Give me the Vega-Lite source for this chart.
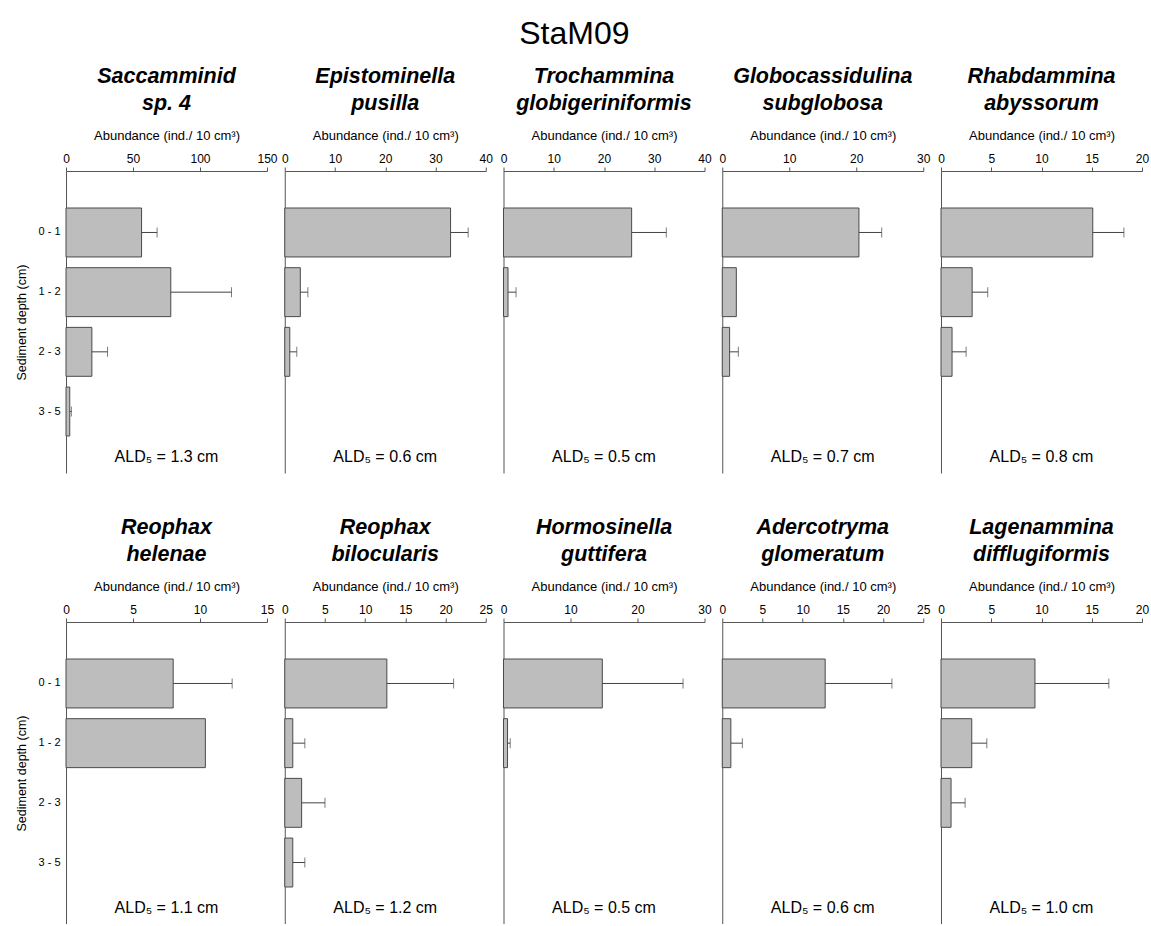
{
 "$schema": "https://vega.github.io/schema/vega-lite/v6.json",
 "padding": {"left": 15, "top": 17, "right": 2, "bottom": 0},
 "title": {"text": "StaM09", "fontSize": 32, "fontWeight": "normal", "fontStyle": "normal", "anchor": "middle", "offset": 15, "dx": -8},
 "datasets": {
  "bars": [
   {"species":"Saccamminid sp. 4","depth":"0 - 1","abundance":56.4,"upper":68.0},
   {"species":"Saccamminid sp. 4","depth":"1 - 2","abundance":78.2,"upper":123.5},
   {"species":"Saccamminid sp. 4","depth":"2 - 3","abundance":19.3,"upper":31.0},
   {"species":"Saccamminid sp. 4","depth":"3 - 5","abundance":2.8,"upper":4.0},
   {"species":"Epistominella pusilla","depth":"0 - 1","abundance":33.0,"upper":36.5},
   {"species":"Epistominella pusilla","depth":"1 - 2","abundance":3.1,"upper":4.6},
   {"species":"Epistominella pusilla","depth":"2 - 3","abundance":1.0,"upper":2.4},
   {"species":"Trochammina globigeriniformis","depth":"0 - 1","abundance":25.5,"upper":32.4},
   {"species":"Trochammina globigeriniformis","depth":"1 - 2","abundance":0.9,"upper":2.5},
   {"species":"Globocassidulina subglobosa","depth":"0 - 1","abundance":20.4,"upper":23.8},
   {"species":"Globocassidulina subglobosa","depth":"1 - 2","abundance":2.1,"upper":null},
   {"species":"Globocassidulina subglobosa","depth":"2 - 3","abundance":1.1,"upper":2.4},
   {"species":"Rhabdammina abyssorum","depth":"0 - 1","abundance":15.1,"upper":18.2},
   {"species":"Rhabdammina abyssorum","depth":"1 - 2","abundance":3.1,"upper":4.65},
   {"species":"Rhabdammina abyssorum","depth":"2 - 3","abundance":1.1,"upper":2.5},
   {"species":"Reophax helenae","depth":"0 - 1","abundance":8.0,"upper":12.4},
   {"species":"Reophax helenae","depth":"1 - 2","abundance":10.4,"upper":null},
   {"species":"Reophax bilocularis","depth":"0 - 1","abundance":12.7,"upper":21.0},
   {"species":"Reophax bilocularis","depth":"1 - 2","abundance":1.0,"upper":2.5},
   {"species":"Reophax bilocularis","depth":"2 - 3","abundance":2.1,"upper":5.0},
   {"species":"Reophax bilocularis","depth":"3 - 5","abundance":1.0,"upper":2.5},
   {"species":"Hormosinella guttifera","depth":"0 - 1","abundance":14.75,"upper":26.8},
   {"species":"Hormosinella guttifera","depth":"1 - 2","abundance":0.6,"upper":1.0},
   {"species":"Adercotryma glomeratum","depth":"0 - 1","abundance":12.8,"upper":21.1},
   {"species":"Adercotryma glomeratum","depth":"1 - 2","abundance":1.07,"upper":2.5},
   {"species":"Lagenammina difflugiformis","depth":"0 - 1","abundance":9.35,"upper":16.7},
   {"species":"Lagenammina difflugiformis","depth":"1 - 2","abundance":3.06,"upper":4.56},
   {"species":"Lagenammina difflugiformis","depth":"2 - 3","abundance":1.0,"upper":2.4}
  ]
 },
 "columns": 5,
 "spacing": {"row": 149, "column": 17.75},
 "bounds": "flush",
 "concat": [
  {
   "title": {"text": ["Saccamminid", "sp. 4"]},
   "width": 201, "height": 302,
   "layer": [
    {"data": {"name": "bars"}, "transform": [{"filter": "datum.species === 'Saccamminid sp. 4'"}], "mark": "bar",
     "encoding": {"x": {"field": "abundance", "type": "quantitative", "title": "Abundance (ind./ 10 cm³)", "scale": {"domain": [0, 150], "nice": false}, "axis": {"orient": "top", "values": [0, 50, 100, 150]}},
      "y": {"field": "depth", "type": "nominal", "title": "Sediment depth (cm)", "scale": {"domain": ["0 - 1", "1 - 2", "2 - 3", "3 - 5"]}}}},
    {"data": {"name": "bars"}, "transform": [{"filter": "datum.species === 'Saccamminid sp. 4' && isValid(datum.upper)"}], "mark": "rule",
     "encoding": {"x": {"field": "abundance", "type": "quantitative", "title": "Abundance (ind./ 10 cm³)", "scale": {"domain": [0, 150], "nice": false}}, "x2": {"field": "upper"},
      "y": {"field": "depth", "type": "nominal", "title": "Sediment depth (cm)", "scale": {"domain": ["0 - 1", "1 - 2", "2 - 3", "3 - 5"]}}}},
    {"data": {"name": "bars"}, "transform": [{"filter": "datum.species === 'Saccamminid sp. 4' && isValid(datum.upper)"}], "mark": {"type": "tick", "size": 10},
     "encoding": {"x": {"field": "upper", "type": "quantitative", "title": "Abundance (ind./ 10 cm³)", "scale": {"domain": [0, 150], "nice": false}},
      "y": {"field": "depth", "type": "nominal", "title": "Sediment depth (cm)", "scale": {"domain": ["0 - 1", "1 - 2", "2 - 3", "3 - 5"]}}}},
    {"data": {"values": [{"label": "ALD₅ = 1.3 cm"}]}, "mark": {"type": "text", "dy": 45},
     "encoding": {"x": {"datum": 75, "type": "quantitative"}, "y": {"datum": "3 - 5", "type": "nominal"}, "text": {"field": "label", "type": "nominal"}}}
   ]
  },
  {
   "title": {"text": ["Epistominella", "pusilla"]},
   "width": 201, "height": 302,
   "layer": [
    {"data": {"name": "bars"}, "transform": [{"filter": "datum.species === 'Epistominella pusilla'"}], "mark": "bar",
     "encoding": {"x": {"field": "abundance", "type": "quantitative", "title": "Abundance (ind./ 10 cm³)", "scale": {"domain": [0, 40], "nice": false}, "axis": {"orient": "top", "values": [0, 10, 20, 30, 40]}},
      "y": {"field": "depth", "type": "nominal", "title": null, "scale": {"domain": ["0 - 1", "1 - 2", "2 - 3", "3 - 5"]}, "axis": {"labels": false}}}},
    {"data": {"name": "bars"}, "transform": [{"filter": "datum.species === 'Epistominella pusilla' && isValid(datum.upper)"}], "mark": "rule",
     "encoding": {"x": {"field": "abundance", "type": "quantitative", "title": "Abundance (ind./ 10 cm³)", "scale": {"domain": [0, 40], "nice": false}}, "x2": {"field": "upper"},
      "y": {"field": "depth", "type": "nominal", "title": null, "scale": {"domain": ["0 - 1", "1 - 2", "2 - 3", "3 - 5"]}}}},
    {"data": {"name": "bars"}, "transform": [{"filter": "datum.species === 'Epistominella pusilla' && isValid(datum.upper)"}], "mark": {"type": "tick", "size": 10},
     "encoding": {"x": {"field": "upper", "type": "quantitative", "title": "Abundance (ind./ 10 cm³)", "scale": {"domain": [0, 40], "nice": false}},
      "y": {"field": "depth", "type": "nominal", "title": null, "scale": {"domain": ["0 - 1", "1 - 2", "2 - 3", "3 - 5"]}}}},
    {"data": {"values": [{"label": "ALD₅ = 0.6 cm"}]}, "mark": {"type": "text", "dy": 45},
     "encoding": {"x": {"datum": 20, "type": "quantitative"}, "y": {"datum": "3 - 5", "type": "nominal"}, "text": {"field": "label", "type": "nominal"}}}
   ]
  },
  {
   "title": {"text": ["Trochammina", "globigeriniformis"]},
   "width": 201, "height": 302,
   "layer": [
    {"data": {"name": "bars"}, "transform": [{"filter": "datum.species === 'Trochammina globigeriniformis'"}], "mark": "bar",
     "encoding": {"x": {"field": "abundance", "type": "quantitative", "title": "Abundance (ind./ 10 cm³)", "scale": {"domain": [0, 40], "nice": false}, "axis": {"orient": "top", "values": [0, 10, 20, 30, 40]}},
      "y": {"field": "depth", "type": "nominal", "title": null, "scale": {"domain": ["0 - 1", "1 - 2", "2 - 3", "3 - 5"]}, "axis": {"labels": false}}}},
    {"data": {"name": "bars"}, "transform": [{"filter": "datum.species === 'Trochammina globigeriniformis' && isValid(datum.upper)"}], "mark": "rule",
     "encoding": {"x": {"field": "abundance", "type": "quantitative", "title": "Abundance (ind./ 10 cm³)", "scale": {"domain": [0, 40], "nice": false}}, "x2": {"field": "upper"},
      "y": {"field": "depth", "type": "nominal", "title": null, "scale": {"domain": ["0 - 1", "1 - 2", "2 - 3", "3 - 5"]}}}},
    {"data": {"name": "bars"}, "transform": [{"filter": "datum.species === 'Trochammina globigeriniformis' && isValid(datum.upper)"}], "mark": {"type": "tick", "size": 10},
     "encoding": {"x": {"field": "upper", "type": "quantitative", "title": "Abundance (ind./ 10 cm³)", "scale": {"domain": [0, 40], "nice": false}},
      "y": {"field": "depth", "type": "nominal", "title": null, "scale": {"domain": ["0 - 1", "1 - 2", "2 - 3", "3 - 5"]}}}},
    {"data": {"values": [{"label": "ALD₅ = 0.5 cm"}]}, "mark": {"type": "text", "dy": 45},
     "encoding": {"x": {"datum": 20, "type": "quantitative"}, "y": {"datum": "3 - 5", "type": "nominal"}, "text": {"field": "label", "type": "nominal"}}}
   ]
  },
  {
   "title": {"text": ["Globocassidulina", "subglobosa"]},
   "width": 201, "height": 302,
   "layer": [
    {"data": {"name": "bars"}, "transform": [{"filter": "datum.species === 'Globocassidulina subglobosa'"}], "mark": "bar",
     "encoding": {"x": {"field": "abundance", "type": "quantitative", "title": "Abundance (ind./ 10 cm³)", "scale": {"domain": [0, 30], "nice": false}, "axis": {"orient": "top", "values": [0, 10, 20, 30]}},
      "y": {"field": "depth", "type": "nominal", "title": null, "scale": {"domain": ["0 - 1", "1 - 2", "2 - 3", "3 - 5"]}, "axis": {"labels": false}}}},
    {"data": {"name": "bars"}, "transform": [{"filter": "datum.species === 'Globocassidulina subglobosa' && isValid(datum.upper)"}], "mark": "rule",
     "encoding": {"x": {"field": "abundance", "type": "quantitative", "title": "Abundance (ind./ 10 cm³)", "scale": {"domain": [0, 30], "nice": false}}, "x2": {"field": "upper"},
      "y": {"field": "depth", "type": "nominal", "title": null, "scale": {"domain": ["0 - 1", "1 - 2", "2 - 3", "3 - 5"]}}}},
    {"data": {"name": "bars"}, "transform": [{"filter": "datum.species === 'Globocassidulina subglobosa' && isValid(datum.upper)"}], "mark": {"type": "tick", "size": 10},
     "encoding": {"x": {"field": "upper", "type": "quantitative", "title": "Abundance (ind./ 10 cm³)", "scale": {"domain": [0, 30], "nice": false}},
      "y": {"field": "depth", "type": "nominal", "title": null, "scale": {"domain": ["0 - 1", "1 - 2", "2 - 3", "3 - 5"]}}}},
    {"data": {"values": [{"label": "ALD₅ = 0.7 cm"}]}, "mark": {"type": "text", "dy": 45},
     "encoding": {"x": {"datum": 15, "type": "quantitative"}, "y": {"datum": "3 - 5", "type": "nominal"}, "text": {"field": "label", "type": "nominal"}}}
   ]
  },
  {
   "title": {"text": ["Rhabdammina", "abyssorum"]},
   "width": 201, "height": 302,
   "layer": [
    {"data": {"name": "bars"}, "transform": [{"filter": "datum.species === 'Rhabdammina abyssorum'"}], "mark": "bar",
     "encoding": {"x": {"field": "abundance", "type": "quantitative", "title": "Abundance (ind./ 10 cm³)", "scale": {"domain": [0, 20], "nice": false}, "axis": {"orient": "top", "values": [0, 5, 10, 15, 20]}},
      "y": {"field": "depth", "type": "nominal", "title": null, "scale": {"domain": ["0 - 1", "1 - 2", "2 - 3", "3 - 5"]}, "axis": {"labels": false}}}},
    {"data": {"name": "bars"}, "transform": [{"filter": "datum.species === 'Rhabdammina abyssorum' && isValid(datum.upper)"}], "mark": "rule",
     "encoding": {"x": {"field": "abundance", "type": "quantitative", "title": "Abundance (ind./ 10 cm³)", "scale": {"domain": [0, 20], "nice": false}}, "x2": {"field": "upper"},
      "y": {"field": "depth", "type": "nominal", "title": null, "scale": {"domain": ["0 - 1", "1 - 2", "2 - 3", "3 - 5"]}}}},
    {"data": {"name": "bars"}, "transform": [{"filter": "datum.species === 'Rhabdammina abyssorum' && isValid(datum.upper)"}], "mark": {"type": "tick", "size": 10},
     "encoding": {"x": {"field": "upper", "type": "quantitative", "title": "Abundance (ind./ 10 cm³)", "scale": {"domain": [0, 20], "nice": false}},
      "y": {"field": "depth", "type": "nominal", "title": null, "scale": {"domain": ["0 - 1", "1 - 2", "2 - 3", "3 - 5"]}}}},
    {"data": {"values": [{"label": "ALD₅ = 0.8 cm"}]}, "mark": {"type": "text", "dy": 45},
     "encoding": {"x": {"datum": 10, "type": "quantitative"}, "y": {"datum": "3 - 5", "type": "nominal"}, "text": {"field": "label", "type": "nominal"}}}
   ]
  },
  {
   "title": {"text": ["Reophax", "helenae"]},
   "width": 201, "height": 302,
   "layer": [
    {"data": {"name": "bars"}, "transform": [{"filter": "datum.species === 'Reophax helenae'"}], "mark": "bar",
     "encoding": {"x": {"field": "abundance", "type": "quantitative", "title": "Abundance (ind./ 10 cm³)", "scale": {"domain": [0, 15], "nice": false}, "axis": {"orient": "top", "values": [0, 5, 10, 15]}},
      "y": {"field": "depth", "type": "nominal", "title": "Sediment depth (cm)", "scale": {"domain": ["0 - 1", "1 - 2", "2 - 3", "3 - 5"]}}}},
    {"data": {"name": "bars"}, "transform": [{"filter": "datum.species === 'Reophax helenae' && isValid(datum.upper)"}], "mark": "rule",
     "encoding": {"x": {"field": "abundance", "type": "quantitative", "title": "Abundance (ind./ 10 cm³)", "scale": {"domain": [0, 15], "nice": false}}, "x2": {"field": "upper"},
      "y": {"field": "depth", "type": "nominal", "title": "Sediment depth (cm)", "scale": {"domain": ["0 - 1", "1 - 2", "2 - 3", "3 - 5"]}}}},
    {"data": {"name": "bars"}, "transform": [{"filter": "datum.species === 'Reophax helenae' && isValid(datum.upper)"}], "mark": {"type": "tick", "size": 10},
     "encoding": {"x": {"field": "upper", "type": "quantitative", "title": "Abundance (ind./ 10 cm³)", "scale": {"domain": [0, 15], "nice": false}},
      "y": {"field": "depth", "type": "nominal", "title": "Sediment depth (cm)", "scale": {"domain": ["0 - 1", "1 - 2", "2 - 3", "3 - 5"]}}}},
    {"data": {"values": [{"label": "ALD₅ = 1.1 cm"}]}, "mark": {"type": "text", "dy": 45},
     "encoding": {"x": {"datum": 7.5, "type": "quantitative"}, "y": {"datum": "3 - 5", "type": "nominal"}, "text": {"field": "label", "type": "nominal"}}}
   ]
  },
  {
   "title": {"text": ["Reophax", "bilocularis"]},
   "width": 201, "height": 302,
   "layer": [
    {"data": {"name": "bars"}, "transform": [{"filter": "datum.species === 'Reophax bilocularis'"}], "mark": "bar",
     "encoding": {"x": {"field": "abundance", "type": "quantitative", "title": "Abundance (ind./ 10 cm³)", "scale": {"domain": [0, 25], "nice": false}, "axis": {"orient": "top", "values": [0, 5, 10, 15, 20, 25]}},
      "y": {"field": "depth", "type": "nominal", "title": null, "scale": {"domain": ["0 - 1", "1 - 2", "2 - 3", "3 - 5"]}, "axis": {"labels": false}}}},
    {"data": {"name": "bars"}, "transform": [{"filter": "datum.species === 'Reophax bilocularis' && isValid(datum.upper)"}], "mark": "rule",
     "encoding": {"x": {"field": "abundance", "type": "quantitative", "title": "Abundance (ind./ 10 cm³)", "scale": {"domain": [0, 25], "nice": false}}, "x2": {"field": "upper"},
      "y": {"field": "depth", "type": "nominal", "title": null, "scale": {"domain": ["0 - 1", "1 - 2", "2 - 3", "3 - 5"]}}}},
    {"data": {"name": "bars"}, "transform": [{"filter": "datum.species === 'Reophax bilocularis' && isValid(datum.upper)"}], "mark": {"type": "tick", "size": 10},
     "encoding": {"x": {"field": "upper", "type": "quantitative", "title": "Abundance (ind./ 10 cm³)", "scale": {"domain": [0, 25], "nice": false}},
      "y": {"field": "depth", "type": "nominal", "title": null, "scale": {"domain": ["0 - 1", "1 - 2", "2 - 3", "3 - 5"]}}}},
    {"data": {"values": [{"label": "ALD₅ = 1.2 cm"}]}, "mark": {"type": "text", "dy": 45},
     "encoding": {"x": {"datum": 12.5, "type": "quantitative"}, "y": {"datum": "3 - 5", "type": "nominal"}, "text": {"field": "label", "type": "nominal"}}}
   ]
  },
  {
   "title": {"text": ["Hormosinella", "guttifera"]},
   "width": 201, "height": 302,
   "layer": [
    {"data": {"name": "bars"}, "transform": [{"filter": "datum.species === 'Hormosinella guttifera'"}], "mark": "bar",
     "encoding": {"x": {"field": "abundance", "type": "quantitative", "title": "Abundance (ind./ 10 cm³)", "scale": {"domain": [0, 30], "nice": false}, "axis": {"orient": "top", "values": [0, 10, 20, 30]}},
      "y": {"field": "depth", "type": "nominal", "title": null, "scale": {"domain": ["0 - 1", "1 - 2", "2 - 3", "3 - 5"]}, "axis": {"labels": false}}}},
    {"data": {"name": "bars"}, "transform": [{"filter": "datum.species === 'Hormosinella guttifera' && isValid(datum.upper)"}], "mark": "rule",
     "encoding": {"x": {"field": "abundance", "type": "quantitative", "title": "Abundance (ind./ 10 cm³)", "scale": {"domain": [0, 30], "nice": false}}, "x2": {"field": "upper"},
      "y": {"field": "depth", "type": "nominal", "title": null, "scale": {"domain": ["0 - 1", "1 - 2", "2 - 3", "3 - 5"]}}}},
    {"data": {"name": "bars"}, "transform": [{"filter": "datum.species === 'Hormosinella guttifera' && isValid(datum.upper)"}], "mark": {"type": "tick", "size": 10},
     "encoding": {"x": {"field": "upper", "type": "quantitative", "title": "Abundance (ind./ 10 cm³)", "scale": {"domain": [0, 30], "nice": false}},
      "y": {"field": "depth", "type": "nominal", "title": null, "scale": {"domain": ["0 - 1", "1 - 2", "2 - 3", "3 - 5"]}}}},
    {"data": {"values": [{"label": "ALD₅ = 0.5 cm"}]}, "mark": {"type": "text", "dy": 45},
     "encoding": {"x": {"datum": 15, "type": "quantitative"}, "y": {"datum": "3 - 5", "type": "nominal"}, "text": {"field": "label", "type": "nominal"}}}
   ]
  },
  {
   "title": {"text": ["Adercotryma", "glomeratum"]},
   "width": 201, "height": 302,
   "layer": [
    {"data": {"name": "bars"}, "transform": [{"filter": "datum.species === 'Adercotryma glomeratum'"}], "mark": "bar",
     "encoding": {"x": {"field": "abundance", "type": "quantitative", "title": "Abundance (ind./ 10 cm³)", "scale": {"domain": [0, 25], "nice": false}, "axis": {"orient": "top", "values": [0, 5, 10, 15, 20, 25]}},
      "y": {"field": "depth", "type": "nominal", "title": null, "scale": {"domain": ["0 - 1", "1 - 2", "2 - 3", "3 - 5"]}, "axis": {"labels": false}}}},
    {"data": {"name": "bars"}, "transform": [{"filter": "datum.species === 'Adercotryma glomeratum' && isValid(datum.upper)"}], "mark": "rule",
     "encoding": {"x": {"field": "abundance", "type": "quantitative", "title": "Abundance (ind./ 10 cm³)", "scale": {"domain": [0, 25], "nice": false}}, "x2": {"field": "upper"},
      "y": {"field": "depth", "type": "nominal", "title": null, "scale": {"domain": ["0 - 1", "1 - 2", "2 - 3", "3 - 5"]}}}},
    {"data": {"name": "bars"}, "transform": [{"filter": "datum.species === 'Adercotryma glomeratum' && isValid(datum.upper)"}], "mark": {"type": "tick", "size": 10},
     "encoding": {"x": {"field": "upper", "type": "quantitative", "title": "Abundance (ind./ 10 cm³)", "scale": {"domain": [0, 25], "nice": false}},
      "y": {"field": "depth", "type": "nominal", "title": null, "scale": {"domain": ["0 - 1", "1 - 2", "2 - 3", "3 - 5"]}}}},
    {"data": {"values": [{"label": "ALD₅ = 0.6 cm"}]}, "mark": {"type": "text", "dy": 45},
     "encoding": {"x": {"datum": 12.5, "type": "quantitative"}, "y": {"datum": "3 - 5", "type": "nominal"}, "text": {"field": "label", "type": "nominal"}}}
   ]
  },
  {
   "title": {"text": ["Lagenammina", "difflugiformis"]},
   "width": 201, "height": 302,
   "layer": [
    {"data": {"name": "bars"}, "transform": [{"filter": "datum.species === 'Lagenammina difflugiformis'"}], "mark": "bar",
     "encoding": {"x": {"field": "abundance", "type": "quantitative", "title": "Abundance (ind./ 10 cm³)", "scale": {"domain": [0, 20], "nice": false}, "axis": {"orient": "top", "values": [0, 5, 10, 15, 20]}},
      "y": {"field": "depth", "type": "nominal", "title": null, "scale": {"domain": ["0 - 1", "1 - 2", "2 - 3", "3 - 5"]}, "axis": {"labels": false}}}},
    {"data": {"name": "bars"}, "transform": [{"filter": "datum.species === 'Lagenammina difflugiformis' && isValid(datum.upper)"}], "mark": "rule",
     "encoding": {"x": {"field": "abundance", "type": "quantitative", "title": "Abundance (ind./ 10 cm³)", "scale": {"domain": [0, 20], "nice": false}}, "x2": {"field": "upper"},
      "y": {"field": "depth", "type": "nominal", "title": null, "scale": {"domain": ["0 - 1", "1 - 2", "2 - 3", "3 - 5"]}}}},
    {"data": {"name": "bars"}, "transform": [{"filter": "datum.species === 'Lagenammina difflugiformis' && isValid(datum.upper)"}], "mark": {"type": "tick", "size": 10},
     "encoding": {"x": {"field": "upper", "type": "quantitative", "title": "Abundance (ind./ 10 cm³)", "scale": {"domain": [0, 20], "nice": false}},
      "y": {"field": "depth", "type": "nominal", "title": null, "scale": {"domain": ["0 - 1", "1 - 2", "2 - 3", "3 - 5"]}}}},
    {"data": {"values": [{"label": "ALD₅ = 1.0 cm"}]}, "mark": {"type": "text", "dy": 45},
     "encoding": {"x": {"datum": 10, "type": "quantitative"}, "y": {"datum": "3 - 5", "type": "nominal"}, "text": {"field": "label", "type": "nominal"}}}
   ]
  }
 ],
 "config": {
  "font": "Liberation Sans",
  "view": {"stroke": null},
  "title": {"font": "Liberation Sans", "fontSize": 21.5, "fontWeight": "bold", "fontStyle": "italic", "color": "#000000", "lineHeight": 27, "offset": 15, "anchor": "middle"},
  "axis": {"labelFont": "Liberation Sans", "titleFont": "Liberation Sans", "labelColor": "#000000", "titleColor": "#000000", "domainColor": "#555555", "tickColor": "#555555", "titleFontWeight": "normal", "labelFontSize": 12, "titleFontSize": 13, "grid": false},
  "axisX": {"tickSize": 4, "labelFlush": false, "labelPadding": 2, "titlePadding": 10, "labelOverlap": false},
  "axisY": {"ticks": false, "labelPadding": 6, "labelFontSize": 11, "titleFontSize": 12.5, "titlePadding": 9},
  "scale": {"bandPaddingInner": 0.18, "bandPaddingOuter": 0.62},
  "bar": {"fill": "#bdbdbd", "stroke": "#4a4a4a", "strokeWidth": 1},
  "rule": {"color": "#444444"},
  "tick": {"color": "#444444", "thickness": 1},
  "text": {"font": "Liberation Sans", "fontSize": 16, "color": "#000000"}
 }
}
